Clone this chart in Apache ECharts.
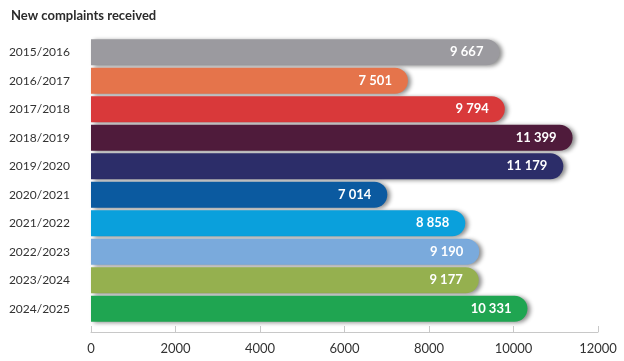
<!DOCTYPE html>
<html><head><meta charset="utf-8">
<script src="https://cdn.jsdelivr.net/npm/echarts@6/dist/echarts.min.js"></script>
<style>html,body{margin:0;padding:0;background:#fff}#c{width:624px;height:361px}</style>
</head><body><div id="c"></div>
<script>
const categories = ['2015/2016','2016/2017','2017/2018','2018/2019','2019/2020','2020/2021','2021/2022','2022/2023','2023/2024','2024/2025'];
const values = [9667, 7501, 9794, 11399, 11179, 7014, 8858, 9190, 9177, 10331];
const colors = ['#9b9a9f','#e5744b','#d9393a','#4f1b3b','#2c2d69','#0b5aa0','#0aa0dc','#7aaadc','#95b04f','#1fa551'];
const xTicks = [0, 2000, 4000, 6000, 8000, 10000, 12000];

const fmt = v => String(v).replace(/\B(?=(\d{3})+(?!\d))/g, ' ');

const chart = echarts.init(document.getElementById('c'));
chart.setOption({
  animation: false,
  title: { text: 'New complaints received', left: 6, top: 4,
    textStyle: { fontFamily: 'Lato', fontSize: 13, fontWeight: 'bold', color: '#2b2b2b' } },
  grid: { left: 91, right: 26, top: 38, bottom: 38, containLabel: false },
  xAxis: {
    type: 'value', min: xTicks[0], max: xTicks[xTicks.length-1], interval: 2000,
    offset: 9,
    axisLine: { show: true, lineStyle: { color: '#c8c8c8', width: 1 } },
    axisTick: { show: true, inside: true, length: 6, lineStyle: { color: '#c8c8c8' } },
    splitLine: { show: false },
    axisLabel: { fontFamily: 'Lato', fontSize: 13, color: '#333', margin: 10, formatter: v => String(v) }
  },
  yAxis: {
    type: 'category', data: categories, inverse: true,
    axisLine: { show: false }, axisTick: { show: false },
    axisLabel: { fontFamily: 'Lato', fontSize: 12, color: '#333', margin: 21 }
  },
  series: [{
    type: 'bar',
    data: values.map((v, i) => ({ value: v, itemStyle: { color: colors[i] } })),
    barCategoryGap: '9%',
    itemStyle: { borderRadius: [0, 13, 13, 0], shadowColor: 'rgba(0,0,0,0.45)', shadowBlur: 4, shadowOffsetX: 3, shadowOffsetY: 1 },
    label: { show: true, position: 'insideRight', distance: 16, color: '#fff',
      fontFamily: 'Lato', fontSize: 13, fontWeight: 'bold', formatter: p => fmt(p.value) }
  }]
});
</script></body></html>
